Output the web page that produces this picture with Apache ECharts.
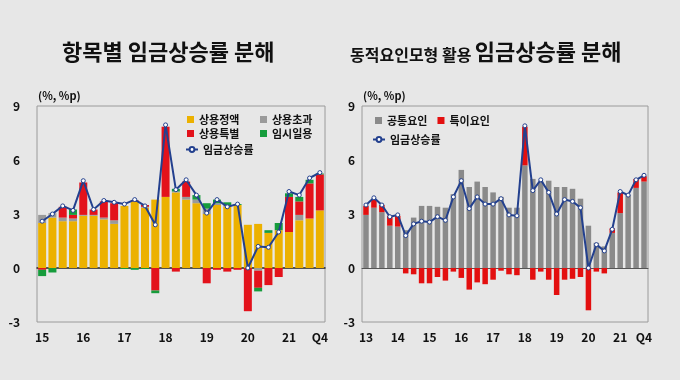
<!DOCTYPE html>
<html>
<head>
<meta charset="utf-8">
<script src="https://cdn.jsdelivr.net/npm/echarts@6/dist/echarts.min.js"></script>
<style>
html,body{margin:0;padding:0;background:#e7e7e7;}
#c{width:680px;height:380px;}
</style>
</head>
<body>
<div id="c"></div>
<script>
// ---------- Left chart: 항목별 임금상승률 분해 (2015Q1–2021Q4) ----------
const leftCategories = ['15Q1','15Q2','15Q3','15Q4','16Q1','16Q2','16Q3','16Q4','17Q1','17Q2','17Q3','17Q4','18Q1','18Q2','18Q3','18Q4','19Q1','19Q2','19Q3','19Q4','20Q1','20Q2','20Q3','20Q4','21Q1','21Q2','21Q3','21Q4'];
const regularFixed   = [2.5,2.8,2.6,2.6,2.9,2.9,2.7,2.45,3.45,3.7,3.35,3.8,3.95,4.2,3.8,3.6,3.0,3.5,3.4,3.5,2.4,2.45,1.95,2.1,2.0,2.65,2.75,3.2];
const regularOver    = [0.45,0.25,0.2,0.15,0.05,0.05,0.1,0.2,0,0,0.05,0,0,0.05,0.15,0.2,0.3,0.1,0.1,0,0,-0.15,0,0,0,0.3,0,0];
const regularSpecial = [-0.1,0,0.6,0.2,1.8,0.3,0.9,0.95,0,0.05,0.1,-1.25,3.9,-0.2,0.85,0,-0.85,-0.1,-0.2,-0.1,-2.4,-0.95,-0.95,-0.5,1.95,0.75,1.95,2.0];
const tempDaily      = [-0.35,-0.25,0,0.3,0,0,0,0,-0.05,-0.1,-0.05,-0.15,0,0.15,0,0.25,0.3,0.2,0.15,0.05,0,-0.2,0.15,0.4,0.2,0.25,0.2,0.05];
const leftWageGrowth = [2.6,3.0,3.45,3.2,4.85,3.25,3.75,3.65,3.55,3.8,3.45,2.4,7.95,4.35,4.9,4.05,3.05,3.8,3.4,3.55,0.0,1.2,1.15,2.0,4.25,4.05,5.0,5.3];

// ---------- Right chart: 동적요인모형 활용 임금상승률 분해 (2013Q1–2021Q4) ----------
const rightCategories = ['13Q1','13Q2','13Q3','13Q4','14Q1','14Q2','14Q3','14Q4','15Q1','15Q2','15Q3','15Q4','16Q1','16Q2','16Q3','16Q4','17Q1','17Q2','17Q3','17Q4','18Q1','18Q2','18Q3','18Q4','19Q1','19Q2','19Q3','19Q4','20Q1','20Q2','20Q3','20Q4','21Q1','21Q2','21Q3','21Q4'];
const commonFactor   = [2.95,3.35,3.1,2.35,2.3,2.1,2.8,3.45,3.45,3.4,3.35,4.1,5.45,4.5,4.8,4.5,4.2,3.95,3.35,3.35,5.7,4.95,4.8,4.85,4.5,4.5,4.4,3.85,2.35,1.4,1.2,1.95,3.05,4.05,4.45,4.8];
const specificFactor = [0.5,0.45,0.4,0.55,0.6,-0.3,-0.35,-0.85,-0.85,-0.5,-0.7,-0.2,-0.55,-1.2,-0.8,-0.9,-0.65,-0.15,-0.35,-0.4,2.15,-0.65,-0.2,-0.65,-1.5,-0.65,-0.6,-0.5,-2.35,-0.2,-0.3,0.25,1.15,0,0.5,0.3];
const rightWageGrowth = [3.5,3.9,3.5,2.85,2.95,1.8,2.45,2.6,2.55,2.85,2.65,3.95,4.85,3.3,3.95,3.55,3.55,3.85,2.95,2.9,7.9,4.3,4.9,4.2,3.0,3.8,3.7,3.35,0.0,1.3,0.95,2.15,4.25,4.05,4.9,5.15];

const yTicks = [-3, 0, 3, 6, 9];

const FONT = "'Noto Sans CJK KR', 'Noto Sans', sans-serif";
const chart = echarts.init(document.getElementById('c'), null, {renderer: 'canvas'});

function xLabelFormatter(cats) {
  return function (v, i) {
    if (i === cats.length - 1) return 'Q4';
    if (v.endsWith('Q1')) return v.slice(0, 2);
    return '';
  };
}

const axisLabelStyle = {color: '#111', fontWeight: 'bold', fontSize: 12, fontFamily: FONT};

const lineStyleSeries = (name, data, xi) => ({
  name, type: 'line', xAxisIndex: xi, yAxisIndex: xi, data,
  symbol: 'circle', symbolSize: 4, z: 10,
  lineStyle: {color: '#23408e', width: 2},
  itemStyle: {color: '#ffffff', borderColor: '#23408e', borderWidth: 1},
  emphasis: {disabled: true}
});

const legendText = {color: '#111', fontWeight: 'bold', fontSize: 11, fontFamily: FONT};

const option = {
  backgroundColor: '#e7e7e7',
  animation: false,
  graphic: [
    {type: 'text', left: 62, top: 41, style: {text: '항목별 임금상승률 분해', font: "bold 22px 'Noto Sans CJK KR'", fill: '#111'}},
    {type: 'text', left: 350, top: 41, style: {
      text: '{s|동적요인모형 활용} {b|임금상승률 분해}',
      rich: {
        s: {font: "bold 16px 'Noto Sans CJK KR'", fill: '#111', verticalAlign: 'bottom'},
        b: {font: "bold 22px 'Noto Sans CJK KR'", fill: '#111', verticalAlign: 'bottom'}
      }
    }},
    {type: 'text', left: 38, top: 90, style: {text: '(%, %p)', font: "bold 11px 'Noto Sans CJK KR'", fill: '#111'}},
    {type: 'text', left: 363, top: 90, style: {text: '(%, %p)', font: "bold 11px 'Noto Sans CJK KR'", fill: '#111'}}
  ],
  legend: [
    {left: 182, top: 109, orient: 'vertical', itemGap: 3, itemWidth: 7, itemHeight: 7, icon: 'rect',
      textStyle: legendText, data: ['상용정액', '상용특별']},
    {left: 255, top: 109, orient: 'vertical', itemGap: 3, itemWidth: 7, itemHeight: 7, icon: 'rect',
      textStyle: legendText, data: ['상용초과', '임시일용']},
    {left: 180, top: 139, itemWidth: 12, itemHeight: 6,
      textStyle: legendText, data: ['임금상승률']},
    {left: 370, top: 110, itemGap: 10, itemWidth: 7, itemHeight: 7, icon: 'rect',
      textStyle: legendText, data: ['공통요인', '특이요인']},
    {left: 367, top: 129, itemWidth: 12, itemHeight: 6,
      textStyle: legendText, data: [{name: '임금상승률 '}]}
  ],
  grid: [
    {left: 37, right: 355, top: 106, bottom: 58, show: true, borderColor: '#9a9a9a', borderWidth: 1, backgroundColor: 'transparent'},
    {left: 362, right: 32, top: 106, bottom: 58, show: true, borderColor: '#9a9a9a', borderWidth: 1, backgroundColor: 'transparent'}
  ],
  xAxis: [
    {type: 'category', gridIndex: 0, data: leftCategories,
      axisLine: {onZero: true, lineStyle: {color: '#222', width: 1.5}},
      axisTick: {show: false},
      axisLabel: Object.assign({interval: 0, margin: 9, formatter: xLabelFormatter(leftCategories)}, axisLabelStyle)},
    {type: 'category', gridIndex: 1, data: rightCategories,
      axisLine: {onZero: true, lineStyle: {color: '#555', width: 1}},
      axisTick: {show: false},
      axisLabel: Object.assign({interval: 0, margin: 9, formatter: xLabelFormatter(rightCategories)}, axisLabelStyle)}
  ],
  yAxis: [
    {type: 'value', gridIndex: 0, min: yTicks[0], max: yTicks[yTicks.length - 1], interval: 3,
      splitLine: {show: false}, axisLine: {show: false}, axisTick: {show: false},
      axisLabel: Object.assign({margin: 17}, axisLabelStyle)},
    {type: 'value', gridIndex: 1, min: yTicks[0], max: yTicks[yTicks.length - 1], interval: 3,
      splitLine: {show: false}, axisLine: {show: false}, axisTick: {show: false},
      axisLabel: Object.assign({margin: 7}, axisLabelStyle)}
  ],
  series: [
    {name: '상용정액', type: 'bar', stack: 'L', xAxisIndex: 0, yAxisIndex: 0, data: regularFixed, barWidth: 8, itemStyle: {color: '#ecb100'}},
    {name: '상용초과', type: 'bar', stack: 'L', xAxisIndex: 0, yAxisIndex: 0, data: regularOver, barWidth: 8, itemStyle: {color: '#9a9a9a'}},
    {name: '상용특별', type: 'bar', stack: 'L', xAxisIndex: 0, yAxisIndex: 0, data: regularSpecial, barWidth: 8, itemStyle: {color: '#e3121b'}},
    {name: '임시일용', type: 'bar', stack: 'L', xAxisIndex: 0, yAxisIndex: 0, data: tempDaily, barWidth: 8, itemStyle: {color: '#169c3c'}},
    lineStyleSeries('임금상승률', leftWageGrowth, 0),
    {name: '공통요인', type: 'bar', stack: 'R', xAxisIndex: 1, yAxisIndex: 1, data: commonFactor, barWidth: 5.5, itemStyle: {color: '#8a8a8a'}},
    {name: '특이요인', type: 'bar', stack: 'R', xAxisIndex: 1, yAxisIndex: 1, data: specificFactor, barWidth: 5.5, itemStyle: {color: '#e30f0f'}},
    lineStyleSeries('임금상승률 ', rightWageGrowth, 1)
  ]
};
chart.setOption(option);
</script>
</body>
</html>
